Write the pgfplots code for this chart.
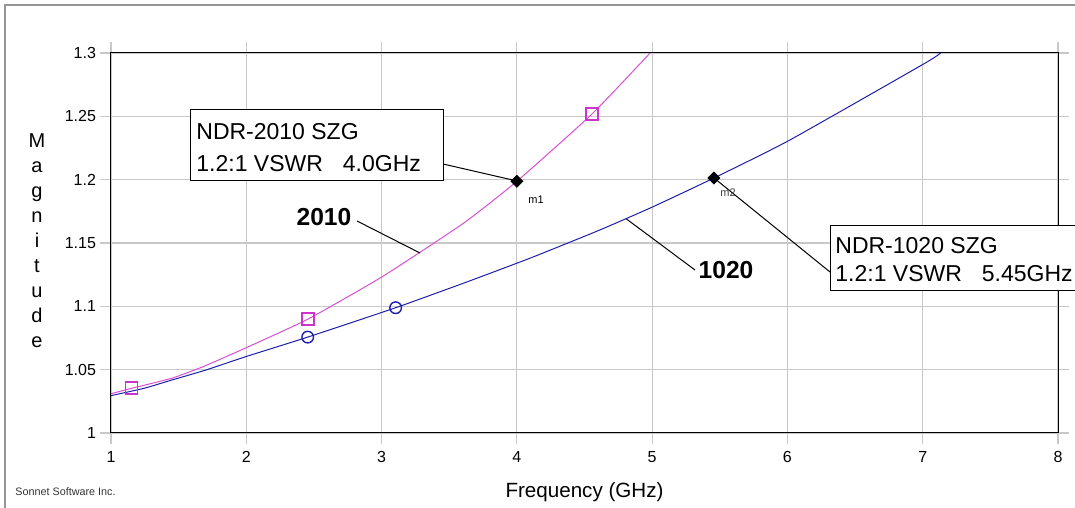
\documentclass[border=0pt]{standalone}
\usepackage{pgfplots}
\pgfplotsset{compat=1.18}
\usepackage{fontspec}
\setmainfont{Liberation Sans}
\definecolor{mag}{RGB}{214,80,214}
\definecolor{magm}{RGB}{204,51,204}
\definecolor{blu}{RGB}{30,30,170}
\definecolor{grd}{RGB}{200,200,200}
\definecolor{frm}{RGB}{150,150,150}
\begin{document}
\begin{tikzpicture}
\useasboundingbox (-55.5pt,-37.5pt) rectangle (482pt,216.5pt);
\begin{axis}[at={(0pt,0pt)}, anchor=south west, scale only axis,
  width=473.5pt, height=190pt,
  xmin=1, xmax=8, ymin=1, ymax=1.3,
  xtick={1,2,3,4,5,6,7,8},
  ytick={1,1.05,1.1,1.15,1.2,1.25,1.3},
  yticklabels={1,1.05,1.1,1.15,1.2,1.25,1.3},
  /pgf/number format/assume math mode=true,
  grid=major, grid style={grd, line width=0.6pt},
  tick align=outside, major tick length=5.5pt,
  tick style={grd, line width=0.6pt},
  axis line style={black, line width=0.5pt},
  ticklabel style={font=\fontsize{8}{9}\selectfont},
  yticklabel style={xshift=1.5pt},
]
\addplot[mag, line width=0.5pt, smooth, tension=0.3] coordinates {
(1,1.031) (1.153,1.0353) (1.449,1.0432) (1.695,1.053) (2.003,1.0675)
(2.454,1.0898) (3.005,1.1234) (3.604,1.1655) (4.0,1.1987)
(4.555,1.2518) (4.985,1.3)};
\addplot[blu, line width=0.5pt, smooth, tension=0.3] coordinates {
(1,1.0295) (1.245,1.0353) (1.449,1.0418) (1.695,1.0495) (2.003,1.0605)
(2.454,1.0757) (3.104,1.0989) (3.604,1.1182)
(4.097,1.138) (4.614,1.1603) (5.008,1.1787) (5.457,1.2013) (6.018,1.2313)
(7.016,1.2919) (7.132,1.3)};
\addplot[only marks, mark=square, mark size=3pt, mark options={draw=magm, fill=white, line width=0.8pt}]
 coordinates {(1.153,1.0353) (2.454,1.0898) (4.555,1.2518)};
\addplot[only marks, mark=o, mark size=2.9pt, mark options={draw=blu, fill=white, line width=0.7pt}]
 coordinates {(2.454,1.0757) (3.104,1.0989)};
\addplot[only marks, mark=square*, mark size=2.1pt, mark options={black, rotate=45}]
 coordinates {(4.0,1.1987) (5.457,1.2013)};
\end{axis}
\begin{scope}[shift={(-55.5pt,216.5pt)}, x=0.5pt, y=-0.5pt]
 % outer frame
 \draw[frm, line width=1pt] (5,508) -- (5,5) -- (1075,5);
 % box 1
 \draw[black, line width=0.5pt] (443,164) -- (517,181);
 \draw[black, fill=white, line width=0.5pt] (190,110) rectangle (443,181);
 \node[anchor=base west, inner sep=0pt, font=\fontsize{11.5}{13}\selectfont] at (196,139.5) {NDR-2010 SZG};
 \node[anchor=base west, inner sep=0pt, font=\fontsize{11.5}{13}\selectfont] at (196,172) {1.2:1 VSWR\hspace{10pt}4.0GHz};
 % box 2
 \draw[black, line width=0.5pt] (714,178) -- (830,272);
 \draw[black, fill=white, line width=0.5pt] (830,226) rectangle (1095,291);
 \node[anchor=base west, inner sep=0pt, font=\fontsize{11.5}{13}\selectfont] at (835,253.5) {NDR-1020 SZG};
 \node[anchor=base west, inner sep=0pt, font=\fontsize{11.5}{13}\selectfont] at (835,282) {1.2:1 VSWR\hspace{10pt}5.45GHz};
 % curve labels
 \draw[black, line width=0.5pt] (357,221) -- (420,253);
 \node[anchor=base, inner sep=0pt, font=\bfseries\fontsize{12.3}{14}\selectfont] at (324,226) {2010};
 \draw[black, line width=0.5pt] (626.5,219) -- (695,270);
 \node[anchor=base, inner sep=0pt, font=\bfseries\fontsize{12.3}{14}\selectfont] at (726,279) {1020};
 % marker labels
 \node[anchor=base, inner sep=0pt, font=\fontsize{5.5}{6}\selectfont] at (536,204) {m1};
 \node[anchor=base, inner sep=0pt, font=\fontsize{5.5}{6}\selectfont, text=black!75] at (728,197) {m2};
 % y label stacked
 \foreach \l [count=\k from 0] in {M,a,g,n,i,t,u,d,e} {
   \node[anchor=base, inner sep=0pt, font=\fontsize{10}{12}\selectfont] at (37,148+25*\k) {\l};
 }
 % x label
 \node[anchor=base, inner sep=0pt, font=\fontsize{10.3}{12}\selectfont] at (584.5,497) {Frequency (GHz)};
 % credit
 \node[anchor=base west, inner sep=0pt, font=\fontsize{5.4}{6}\selectfont, text=black!80] at (15,495) {Sonnet Software Inc.};
\end{scope}
\end{tikzpicture}
\end{document}
